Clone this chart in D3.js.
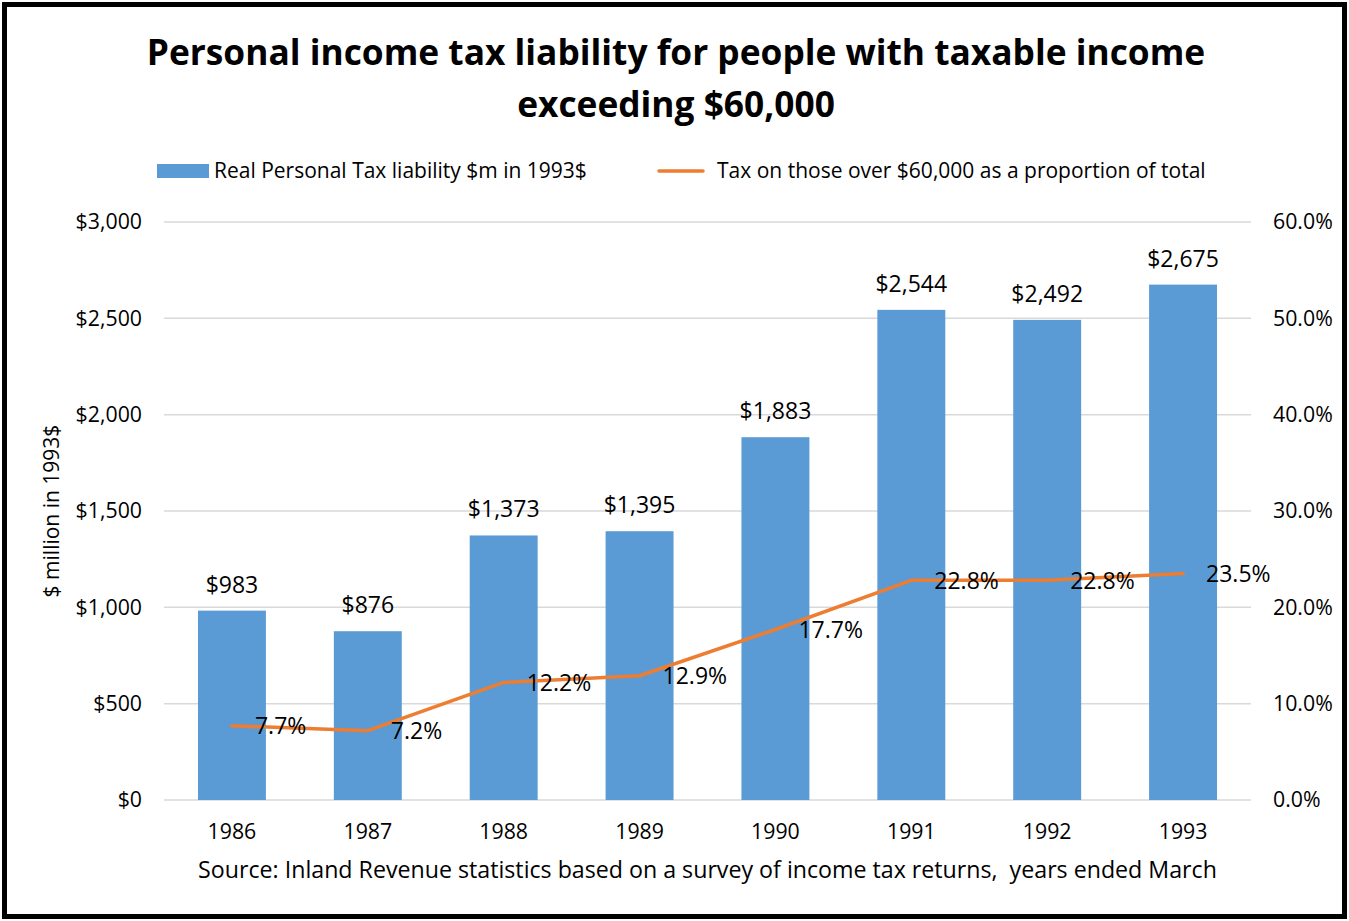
<!DOCTYPE html>
<html>
<head>
<meta charset="utf-8">
<script src="https://cdn.jsdelivr.net/npm/d3@7"></script>
<style>
  html, body { margin: 0; padding: 0; background: #fff; }
  svg { display: block; font-family: "Open Sans", Lato, sans-serif; }
  text { white-space: pre; }
</style>
</head>
<body>
<svg id="chart" width="1349" height="921"></svg>
<script>
// Years ended March
const years = ["1986", "1987", "1988", "1989", "1990", "1991", "1992", "1993"];
// Real personal tax liability, $m in 1993 dollars
const liability = [983, 876, 1373, 1395, 1883, 2544, 2492, 2675];
// Share of total tax paid by those with taxable income over $60,000 (%)
const share = [7.7, 7.2, 12.2, 12.9, 17.7, 22.8, 22.8, 23.5];
// Axis ticks
const leftTicks = [0, 500, 1000, 1500, 2000, 2500, 3000];
const rightTicks = [0, 10, 20, 30, 40, 50, 60];

const titleLines = ["Personal income tax liability for people with taxable income", "exceeding $60,000"];
const barLegend = "Real Personal Tax liability $m in 1993$";
const lineLegend = "Tax on those over $60,000 as a proportion of total";
const yTitle = "$ million in 1993$";
const source = "Source: Inland Revenue statistics based on a survey of income tax returns,  years ended March";

const W = 1349, H = 921;
const blue = "#5b9bd5", orange = "#ed7d31", grid = "#d9d9d9", ink = "#000";
const plot = { left: 164, right: 1251, top: 222, bottom: 800 };

const svg = d3.select("#chart");

// Outer frame
svg.append("rect")
  .attr("x", 4.5).attr("y", 4.5).attr("width", W - 9).attr("height", H - 9)
  .attr("fill", "#fff").attr("stroke", "#000").attr("stroke-width", 5);

// Title
svg.append("g").selectAll("text").data(titleLines).join("text")
  .attr("x", 676).attr("y", (d, i) => 65 + i * 52)
  .attr("text-anchor", "middle")
  .attr("font-size", 35.3).attr("font-weight", 700).attr("fill", ink)
  .text(d => d);

const x = d3.scaleBand().domain(years).range([plot.left, plot.right]).paddingInner(0.5).paddingOuter(0.25);
const y = d3.scaleLinear().domain([0, 3000]).range([plot.bottom, plot.top]);
const y2 = d3.scaleLinear().domain([0, 60]).range([plot.bottom, plot.top]);

// Gridlines
svg.append("g").selectAll("line").data(leftTicks).join("line")
  .attr("x1", plot.left).attr("x2", plot.right)
  .attr("y1", d => y(d)).attr("y2", d => y(d))
  .attr("stroke", grid).attr("stroke-width", 1.5);

function styleAxis(g) {
  g.attr("font-family", null).attr("font-size", null);
  g.select(".domain").remove();
  g.selectAll("text").attr("font-size", 21.3).attr("fill", ink);
}

// Left axis
const fmtDollar = d => "$" + d3.format(",")(d);
svg.append("g").attr("transform", `translate(${plot.left},0)`)
  .call(d3.axisLeft(y).tickValues(leftTicks).tickFormat(fmtDollar).tickSize(0).tickPadding(22))
  .call(styleAxis);

// Right axis
svg.append("g").attr("transform", `translate(${plot.right},0)`)
  .call(d3.axisRight(y2).tickValues(rightTicks).tickFormat(d => d3.format(".1f")(d) + "%").tickSize(0).tickPadding(22))
  .call(styleAxis);

// Bottom axis
svg.append("g").attr("transform", `translate(0,${plot.bottom})`)
  .call(d3.axisBottom(x).tickSize(0).tickPadding(24))
  .call(styleAxis);

// Bars
svg.append("g").selectAll("rect").data(years).join("rect")
  .attr("x", d => x(d)).attr("width", x.bandwidth())
  .attr("y", (d, i) => y(liability[i]))
  .attr("height", (d, i) => y(0) - y(liability[i]))
  .attr("fill", blue);

// Bar value labels
svg.append("g").selectAll("text").data(years).join("text")
  .attr("x", d => x(d) + x.bandwidth() / 2)
  .attr("y", (d, i) => y(liability[i]) - 18)
  .attr("text-anchor", "middle").attr("font-size", 23).attr("fill", ink)
  .text((d, i) => fmtDollar(liability[i]));

// Share line
const line = d3.line()
  .x((d, i) => x(years[i]) + x.bandwidth() / 2)
  .y(d => y2(d));
svg.append("path").datum(share)
  .attr("d", line).attr("fill", "none")
  .attr("stroke", orange).attr("stroke-width", 3.5).attr("stroke-linejoin", "round").attr("stroke-linecap", "round");

// Share labels
svg.append("g").selectAll("text").data(share).join("text")
  .attr("x", (d, i) => x(years[i]) + x.bandwidth() / 2 + 23)
  .attr("y", d => y2(d) + 8.5)
  .attr("font-size", 23).attr("fill", ink)
  .text(d => d3.format(".1f")(d) + "%");

// Legend
const legend = svg.append("g");
legend.append("rect").attr("x", 157).attr("y", 164).attr("width", 52).attr("height", 14).attr("fill", blue);
legend.append("text").attr("x", 214).attr("y", 178).attr("font-size", 21).attr("fill", ink).text(barLegend);
legend.append("line").attr("x1", 659).attr("x2", 703).attr("y1", 171).attr("y2", 171)
  .attr("stroke", orange).attr("stroke-width", 3.5).attr("stroke-linecap", "round");
legend.append("text").attr("x", 717).attr("y", 178).attr("font-size", 21).attr("fill", ink).text(lineLegend);

// Y axis title
svg.append("text")
  .attr("transform", `translate(59,${(plot.top + plot.bottom) / 2}) rotate(-90)`)
  .attr("text-anchor", "middle").attr("font-size", 21).attr("fill", ink)
  .text(yTitle);

// Source note
svg.append("text")
  .attr("x", (plot.left + plot.right) / 2).attr("y", 878)
  .attr("text-anchor", "middle").attr("font-size", 23.2).attr("fill", ink)
  .text(source);
</script>
</body>
</html>
